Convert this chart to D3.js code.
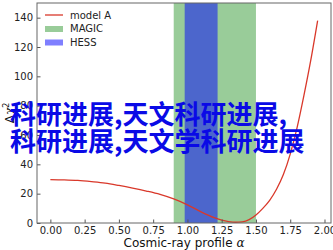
<!DOCTYPE html>
<html>
<head>
<meta charset="utf-8">
<script src="https://cdn.jsdelivr.net/npm/d3@7"></script>
<style>
  body { margin: 0; background: #fff; }
  svg { display: block; font-family: "DejaVu Sans", sans-serif; }
</style>
</head>
<body>
<script>
// model A curve
var alphaVals = [0, 0.1, 0.2, 0.3, 0.4, 0.5, 0.6, 0.7, 0.8, 0.9, 1.0, 1.1, 1.2, 1.25, 1.3, 1.35, 1.4, 1.45, 1.5, 1.55, 1.6, 1.65, 1.7, 1.75, 1.8, 1.85, 1.9, 1.95];
var chi2Vals = [29.6, 29.4, 29.0, 28.2, 27.2, 25.6, 23.8, 21.8, 19.5, 16.4, 12.4, 7.6, 3.5, 2.0, 1.0, 0.5, 0.8, 2.3, 5.5, 10, 15.5, 23, 33, 47, 65, 87, 111, 138];

// experimental ranges on alpha
var bandNames = ["MAGIC", "HESS"];
var bandLo = [0.9, 0.98];
var bandHi = [1.5, 1.22];

var xTicks = [0, 0.25, 0.5, 0.75, 1.0, 1.25, 1.5, 1.75, 2.0];
var yTicks = [0, 20, 40, 60, 80, 100, 120, 140];

var overlayLines = ["科研进展,天文科研进展,", "科研进展,天文学科研进展"];

var width = 333, height = 250;
var margin = { top: 3, right: 2, bottom: 27, left: 37 };

var svg = d3.select("body").append("svg")
    .attr("width", width)
    .attr("height", height);

var x = d3.scaleLinear().domain([-0.0975, 2.0475]).range([margin.left, width - margin.right]);
var y = d3.scaleLinear().domain([0, 150]).range([height - margin.bottom, margin.top]);

var bandFill = { MAGIC: "rgba(0,128,0,0.4)", HESS: "rgba(0,0,255,0.5)" };

svg.selectAll(".band")
    .data(bandNames)
    .enter().append("rect")
    .attr("class", "band")
    .attr("x", function (d, i) { return x(bandLo[i]); })
    .attr("width", function (d, i) { return x(bandHi[i]) - x(bandLo[i]); })
    .attr("y", y(150))
    .attr("height", y(0) - y(150))
    .style("fill", function (d) { return bandFill[d]; });

var line = d3.line()
    .x(function (d, i) { return x(alphaVals[i]); })
    .y(function (d) { return y(d); })
    .curve(d3.curveMonotoneX);

svg.append("path")
    .attr("d", line(chi2Vals))
    .style("fill", "none")
    .style("stroke", "#d9382a")
    .style("stroke-width", 1.3);

// axes, ticks pointing inward
var xAxis = svg.append("g")
    .attr("transform", "translate(0," + y(0) + ")")
    .call(d3.axisBottom(x).tickValues(xTicks).tickFormat(d3.format(".2f")).tickSizeInner(-3.5).tickSizeOuter(0).tickPadding(4));
var yAxis = svg.append("g")
    .attr("transform", "translate(" + x.range()[0] + ",0)")
    .call(d3.axisLeft(y).tickValues(yTicks).tickSizeInner(-3.5).tickSizeOuter(0).tickPadding(4));

[xAxis, yAxis].forEach(function (a) {
    a.select(".domain").remove();
    a.selectAll("line").style("stroke", "#555");
    a.selectAll("text").style("font-size", "10px").style("fill", "#222")
        .style("font-family", "'DejaVu Sans', sans-serif");
});

svg.append("rect")
    .attr("x", x.range()[0])
    .attr("y", y(150))
    .attr("width", x.range()[1] - x.range()[0])
    .attr("height", y(0) - y(150))
    .style("fill", "none")
    .style("stroke", "#666")
    .style("stroke-width", 1);

svg.append("text")
    .attr("x", (x.range()[0] + x.range()[1]) / 2)
    .attr("y", 247)
    .attr("text-anchor", "middle")
    .style("font-size", "12px")
    .style("fill", "#111")
    .html("Cosmic-ray profile <tspan font-style='italic' font-family='DejaVu Serif'>α</tspan>");

svg.append("text")
    .attr("transform", "translate(14," + (y(75)) + ") rotate(-90)")
    .attr("text-anchor", "middle")
    .style("font-size", "12px")
    .style("fill", "#111")
    .html("Δ<tspan font-style='italic' font-family='DejaVu Serif'>χ</tspan><tspan dy='-5' font-size='8px'>2</tspan>");

// legend
var legend = svg.append("g").attr("transform", "translate(45,15)");
legend.append("line")
    .attr("x1", 0).attr("x2", 18).attr("y1", 0).attr("y2", 0)
    .style("stroke", "#d9382a").style("stroke-width", 1.3);
bandNames.forEach(function (name, i) {
    legend.append("rect")
        .attr("x", 0).attr("y", 14 + i * 13.5 - 3)
        .attr("width", 18).attr("height", 6)
        .style("fill", bandFill[name]);
});
legend.selectAll(".lab")
    .data(["model A"].concat(bandNames))
    .enter().append("text")
    .attr("x", 25)
    .attr("y", function (d, i) { return i * 13.5 + 3.5; })
    .style("font-size", "10px")
    .style("fill", "#222")
    .text(function (d) { return d; });

// big overlay text
svg.selectAll(".overlay")
    .data(overlayLines)
    .enter().append("text")
    .attr("x", 10)
    .attr("y", function (d, i) { return 124 + i * 26.7; })
    .style("font-family", "'Noto Sans CJK SC', sans-serif")
    .style("font-weight", "bold")
    .style("font-size", "26px")
    .style("fill", "#0a0ae6")
    .text(function (d) { return d; });
</script>
</body>
</html>
